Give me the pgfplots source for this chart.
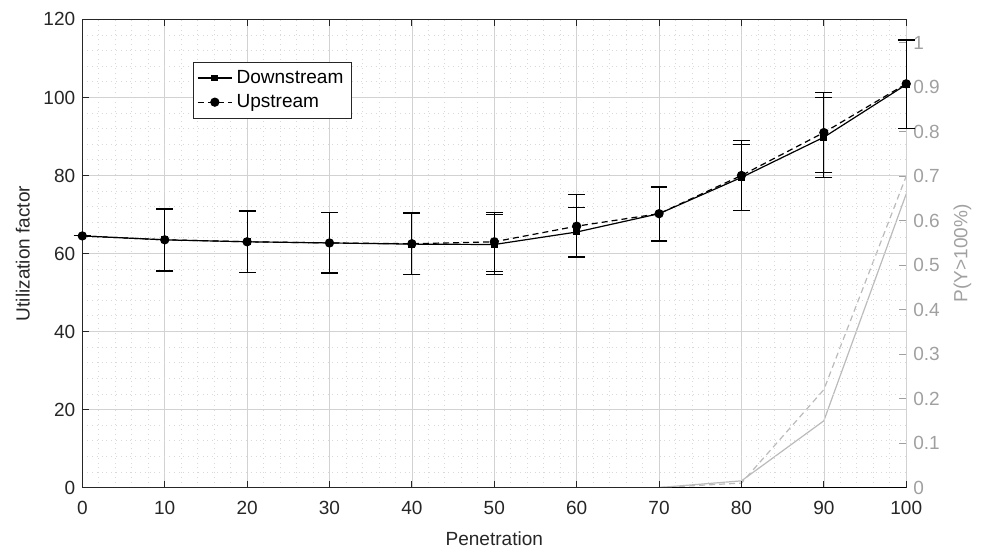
\documentclass[border=0pt]{standalone}
\usepackage{fontspec}
\setmainfont{Liberation Sans}
\usepackage{pgfplots}
\pgfplotsset{compat=1.18}
\definecolor{axdark}{HTML}{262626}
\definecolor{axgray}{HTML}{A0A0A0}
\definecolor{pgray}{HTML}{BBBBBB}

\begin{document}
\begin{tikzpicture}[font=\fontsize{9.5}{11}\selectfont]
% right axis first, so the black error bars lie on top of its spine
\begin{axis}[
    scale only axis,
    width=411pt, height=233.5pt,
    xmin=0, xmax=100, ymin=0, ymax=1.052,
    axis x line=none, axis y line*=right,
    ytick={0,0.1,0.2,0.3,0.4,0.5,0.6,0.7,0.8,0.9,1},
    yticklabels={0,0.1,0.2,0.3,0.4,0.5,0.6,0.7,0.8,0.9,1},
    tick align=inside, major tick length=3.5pt,
    y axis line style={axgray, line width=0.4pt},
    ytick style={axgray, line width=0.4pt},
    yticklabel style={axgray},
    ylabel={P(Y>100\%)}, ylabel style={axgray},
]
\addplot[pgray, line width=0.6pt] coordinates {
    (70,0) (80,0.015) (90,0.15) (100,0.66)
  };
\addplot[pgray, line width=0.6pt, dash pattern=on 3pt off 2pt] coordinates {
    (70,0) (80,0.01) (90,0.22) (100,0.70)
  };
\end{axis}

\begin{axis}[
    scale only axis,
    width=411pt, height=233.5pt,
    xmin=0, xmax=100, ymin=0, ymax=120,
    clip=false,
    axis x line*=box, axis y line*=left,
    xtick={0,10,...,100}, ytick={0,20,...,120},
    minor x tick num=4, minor y tick num=4,
    grid=both,
    major grid style={draw=gray!35, line width=0.3pt},
    minor grid style={draw=gray!30, dotted, line width=0.4pt},
    tick align=inside,
    major tick length=3.5pt, minor tick length=0pt,
    axis line style={axdark, line width=0.4pt},
    tick style={axdark, line width=0.4pt},
    ticklabel style={axdark},
    xticklabel style={yshift=-3.5pt},
    /pgf/number format/assume math mode=true,
    xlabel={Penetration}, ylabel={Utilization factor},
    xlabel style={yshift=-1.5pt},
    label style={axdark},
    legend cell align=left,
    legend style={at={(0.134,0.91)}, anchor=north west, draw=axdark,
        line width=0.4pt, font=\fontsize{9.5}{11}\selectfont,
        inner sep=2pt, row sep=0pt},
]
\addplot[black, line width=0.6pt, mark=square*, mark size=1.4pt,
    error bars/.cd, y dir=both, y explicit,
    error bar style={black, line width=0.5pt},
    error mark=-,
    error mark options={rotate=90, black, mark size=4.2pt, line width=0.5pt}]
  coordinates {
    (0,64.5) +- (0,0)
    (10,63.5) +- (0,7.8)
    (20,63.0) +- (0,7.8)
    (30,62.7) +- (0,7.7)
    (40,62.4) +- (0,7.8)
    (50,62.3) +- (0,7.6)
    (60,65.5) +- (0,6.3)
    (70,70.2) +- (0,7.0)
    (80,79.5) +- (0,8.5)
    (90,89.8) +- (0,10.3)
    (100,103.3) +- (0,11.3)
  };
\addlegendentry{Downstream}
\addplot[black, line width=0.6pt, dash pattern=on 3pt off 2pt, mark=*, mark size=2pt,
    mark options={solid},
    error bars/.cd, y dir=both, y explicit,
    error bar style={black, line width=0.5pt, solid},
    error mark=-,
    error mark options={rotate=90, black, mark size=4.2pt, line width=0.5pt, solid}]
  coordinates {
    (0,64.5) +- (0,0)
    (10,63.5) +- (0,8.0)
    (20,63.0) +- (0,8.0)
    (30,62.7) +- (0,7.9)
    (40,62.5) +- (0,8.0)
    (50,63.0) +- (0,7.6)
    (60,67.0) +- (0,8.0)
    (70,70.2) +- (0,6.8)
    (80,80.0) +- (0,9.0)
    (90,91.0) +- (0,10.3)
    (100,103.5) +- (0,11.4)
  };
\addlegendentry{Upstream}
\addplot[black, line width=0.8pt, forget plot] coordinates {
    (71.6,0) (100,0)
  };
\end{axis}
\path ([xshift=-4.5pt,yshift=3pt]current bounding box.north west)
      ([xshift=4pt,yshift=0pt]current bounding box.south east);
\end{tikzpicture}
\end{document}
